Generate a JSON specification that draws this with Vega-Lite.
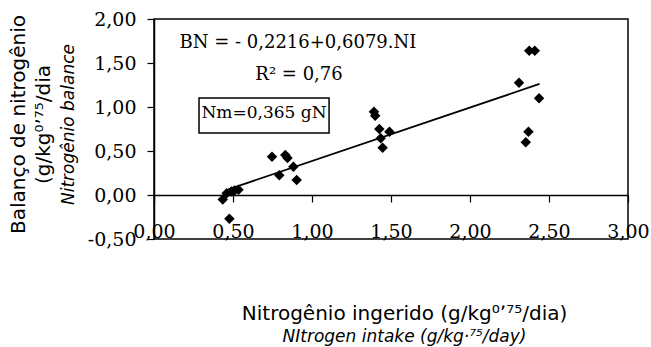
{
  "$schema": "https://vega.github.io/schema/vega-lite/v6.json",
  "autosize": "none",
  "width": 474,
  "height": 220,
  "padding": {"left": 154, "top": 19, "right": 23, "bottom": 108},
  "background": "white",
  "config": {
    "view": {"stroke": "black", "strokeWidth": 1.5},
    "axis": {"grid": false, "labelColor": "black", "titleColor": "black", "domainColor": "black", "tickColor": "black"}
  },
  "datasets": {
    "points": [
      {"ni": 0.435, "bn": -0.05},
      {"ni": 0.477, "bn": -0.27},
      {"ni": 0.46, "bn": 0.02},
      {"ni": 0.49, "bn": 0.04},
      {"ni": 0.51, "bn": 0.05},
      {"ni": 0.535, "bn": 0.06},
      {"ni": 0.747, "bn": 0.435},
      {"ni": 0.831, "bn": 0.455},
      {"ni": 0.845, "bn": 0.42},
      {"ni": 0.882, "bn": 0.32},
      {"ni": 0.793, "bn": 0.224},
      {"ni": 0.903, "bn": 0.17},
      {"ni": 1.392, "bn": 0.947},
      {"ni": 1.40, "bn": 0.90},
      {"ni": 1.426, "bn": 0.75},
      {"ni": 1.49, "bn": 0.72},
      {"ni": 1.435, "bn": 0.644},
      {"ni": 1.447, "bn": 0.537},
      {"ni": 2.375, "bn": 1.64},
      {"ni": 2.41, "bn": 1.64},
      {"ni": 2.31, "bn": 1.276},
      {"ni": 2.437, "bn": 1.10},
      {"ni": 2.37, "bn": 0.72},
      {"ni": 2.353, "bn": 0.60}
    ],
    "fit": [
      {"ni": 0.47, "bn": 0.0641},
      {"ni": 2.44, "bn": 1.2617}
    ],
    "labels": [
      {"ni": 0.911, "bn": 1.67, "txt": "BN = - 0,2216+0,6079.NI", "size": 18},
      {"ni": 0.918, "bn": 1.307, "txt": "R² = 0,76", "size": 18},
      {"ni": 0.696, "bn": 0.875, "txt": "Nm=0,365 gN", "size": 17}
    ],
    "box": [
      {"x1": 0.285, "x2": 1.108, "y1": 0.705, "y2": 1.102}
    ]
  },
  "resolve": {"axis": {"x": "independent", "y": "independent"}},
  "layer": [
    {
      "data": {"name": "points"},
      "mark": {"type": "point", "shape": "diamond", "filled": true, "color": "black", "size": 110, "opacity": 1},
      "encoding": {
        "x": {
          "field": "ni", "type": "quantitative",
          "scale": {"domain": [0, 3], "nice": false, "zero": false},
          "axis": {
            "orient": "bottom",
            "values": [0, 0.5, 1, 1.5, 2, 2.5, 3],
            "labelExpr": "replace(replace(format(datum.value, '.2f'), '.', ','), '−', '-')",
            "domain": false, "ticks": false,
            "labelFont": "DejaVu Serif", "labelFontSize": 19,
            "labelBaseline": "alphabetic", "labelPadding": -2,
            "labelFlush": false, "labelOverlap": false,
            "title": "Nitrogênio ingerido (g/kg⁰ʼ⁷⁵/dia)",
            "titleFont": "DejaVu Sans", "titleFontSize": 20, "titleFontWeight": "normal",
            "titleX": 250, "titleY": 80, "titleAlign": "center", "titleBaseline": "alphabetic", "titleAnchor": null
          }
        },
        "y": {
          "field": "bn", "type": "quantitative",
          "scale": {"domain": [-0.5, 2], "nice": false, "zero": false},
          "axis": {
            "orient": "left",
            "values": [-0.5, 0, 0.5, 1, 1.5, 2],
            "labelExpr": "replace(replace(format(datum.value, '.2f'), '.', ','), '−', '-')",
            "domain": true, "domainWidth": 1.5, "ticks": true, "tickSize": 7, "tickWidth": 1.2,
            "labelFont": "DejaVu Serif", "labelFontSize": 19, "labelPadding": 11,
            "labelBaseline": "middle", "labelFlush": false, "labelOverlap": false,
            "title": ["Balanço de nitrogênio", "(g/kg⁰ʼ⁷⁵/dia"],
            "titleFont": "DejaVu Sans", "titleFontSize": 20, "titleFontWeight": "normal",
            "titleLineHeight": 25, "titleAngle": -90,
            "titleX": -130, "titleY": 105, "titleAlign": "center", "titleBaseline": "alphabetic", "titleAnchor": null
          }
        }
      }
    },
    {
      "data": {"name": "fit"},
      "mark": {"type": "line", "color": "black", "strokeWidth": 1.8},
      "encoding": {
        "x": {
          "field": "ni", "type": "quantitative",
          "scale": {"domain": [0, 3], "nice": false, "zero": false},
          "axis": {
            "orient": "bottom",
            "values": [0, 0.5, 1, 1.5, 2, 2.5, 3],
            "offset": -44, "labels": false,
            "domain": true, "domainWidth": 1.5, "ticks": true, "tickSize": 7, "tickWidth": 1.2,
            "title": "NItrogen intake (g/kg·⁷⁵/day)",
            "titleFont": "DejaVu Sans", "titleFontSize": 17, "titleFontStyle": "italic", "titleFontWeight": "normal",
            "titleX": 250, "titleY": 146, "titleAlign": "center", "titleBaseline": "alphabetic", "titleAnchor": null
          }
        },
        "y": {
          "field": "bn", "type": "quantitative",
          "scale": {"domain": [-0.5, 2], "nice": false, "zero": false},
          "axis": {
            "orient": "left",
            "labels": false, "ticks": false, "domain": false,
            "title": "Nitrogênio balance",
            "titleFont": "DejaVu Sans", "titleFontSize": 17, "titleFontStyle": "italic", "titleFontWeight": "normal",
            "titleAngle": -90, "titleX": -81, "titleY": 105, "titleAlign": "center", "titleBaseline": "alphabetic", "titleAnchor": null
          }
        }
      }
    },
    {
      "data": {"name": "box"},
      "mark": {"type": "rect", "fill": "transparent", "stroke": "black", "strokeWidth": 1.5},
      "encoding": {
        "x": {"field": "x1", "type": "quantitative", "scale": {"domain": [0, 3], "nice": false, "zero": false}, "axis": null},
        "x2": {"field": "x2"},
        "y": {"field": "y1", "type": "quantitative", "scale": {"domain": [-0.5, 2], "nice": false, "zero": false}, "axis": null},
        "y2": {"field": "y2"}
      }
    },
    {
      "data": {"name": "labels"},
      "mark": {"type": "text", "font": "DejaVu Serif", "color": "black", "align": "center", "baseline": "alphabetic"},
      "encoding": {
        "x": {"field": "ni", "type": "quantitative", "scale": {"domain": [0, 3], "nice": false, "zero": false}, "axis": null},
        "y": {"field": "bn", "type": "quantitative", "scale": {"domain": [-0.5, 2], "nice": false, "zero": false}, "axis": null},
        "text": {"field": "txt"},
        "size": {"field": "size", "type": "quantitative", "scale": null}
      }
    }
  ]
}
